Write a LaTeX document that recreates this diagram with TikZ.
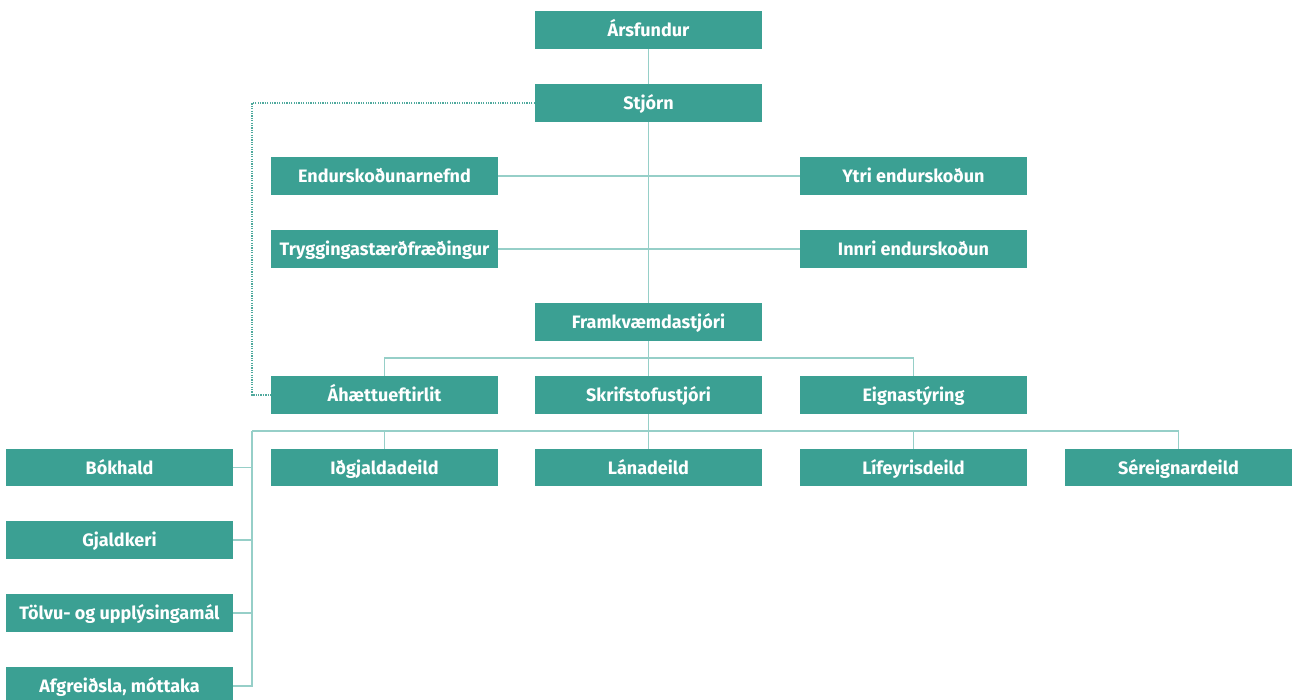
\documentclass[tikz,border=0pt]{standalone}
\usepackage{fontspec}
\setmainfont{Fira Sans}
\definecolor{boxc}{HTML}{3BA093}
\definecolor{linec}{HTML}{96CFC8}
\definecolor{dotc}{HTML}{4FA99D}
\tikzset{
  unit box/.style={fill=boxc, text=white, minimum width=227pt, minimum height=37.5pt, inner sep=0pt, text height=13.4pt, text depth=0pt, font=\bfseries\fontsize{18}{20}\selectfont},
  conn/.style={draw=linec, line width=1.4pt},
  dotconn/.style={draw=dotc, line width=1.3pt, dash pattern=on 1.3pt off 1.1pt},
}
\begin{document}
\begin{tikzpicture}[x=1pt,y=-1pt]
\useasboundingbox (0,0) rectangle (1292,700);
\node[unit box] (arsf) at (648.5,30) {Ársfundur};
\node[unit box] (stjorn) at (648.5,103) {Stjórn};
\node[unit box] (endn) at (384.5,176) {Endurskoðunarnefnd};
\node[unit box] (ytri) at (913.5,176) {Ytri endurskoðun};
\node[unit box] (tryg) at (384.5,249) {Tryggingastærðfræðingur};
\node[unit box] (innri) at (913.5,249) {Innri endurskoðun};
\node[unit box] (framk) at (648.5,322) {Framkvæmdastjóri};
\node[unit box] (ahaett) at (384.5,395) {Áhættueftirlit};
\node[unit box] (skrif) at (648.5,395) {Skrifstofustjóri};
\node[unit box] (eign) at (913.5,395) {Eignastýring};
\node[unit box] (idg) at (384.5,467.5) {Iðgjaldadeild};
\node[unit box] (lana) at (648.5,467.5) {Lánadeild};
\node[unit box] (lif) at (913.5,467.5) {Lífeyrisdeild};
\node[unit box] (sere) at (1178.5,467.5) {Séreignardeild};
\node[unit box] (bok) at (119.5,467.5) {Bókhald};
\node[unit box] (gjald) at (119.5,540) {Gjaldkeri};
\node[unit box] (tolvu) at (119.5,613) {Tölvu- og upplýsingamál};
\node[unit box] (afgr) at (119.5,686) {Afgreiðsla, móttaka};
\coordinate (dl) at (252,103);
\coordinate (j1) at (648.5,358);
\coordinate (j2) at (648.5,431);
\coordinate (lb) at (252,431);
\draw[conn] (arsf.south) -- (stjorn.north);
\draw[conn] (stjorn.south) -- (framk.north);
\draw[conn] (endn.east) -- (ytri.west);
\draw[conn] (tryg.east) -- (innri.west);
\draw[conn] (framk.south) -- (skrif.north);
\draw[conn] (ahaett.north) |- (j1) -| (eign.north);
\draw[conn] (skrif.south) -- (lana.north);
\draw[conn] (lb) -- (sere.north |- j2) -- (sere.north);
\draw[conn] (idg.north) -- (idg.north |- j2);
\draw[conn] (lif.north) -- (lif.north |- j2);
\draw[conn] (lb) |- (afgr.east);
\draw[conn] (bok.east) -- (bok.east -| lb);
\draw[conn] (gjald.east) -- (gjald.east -| lb);
\draw[conn] (tolvu.east) -- (tolvu.east -| lb);
\draw[dotconn] (stjorn.west) -- (dl) |- (ahaett.west);
\end{tikzpicture}
\end{document}
